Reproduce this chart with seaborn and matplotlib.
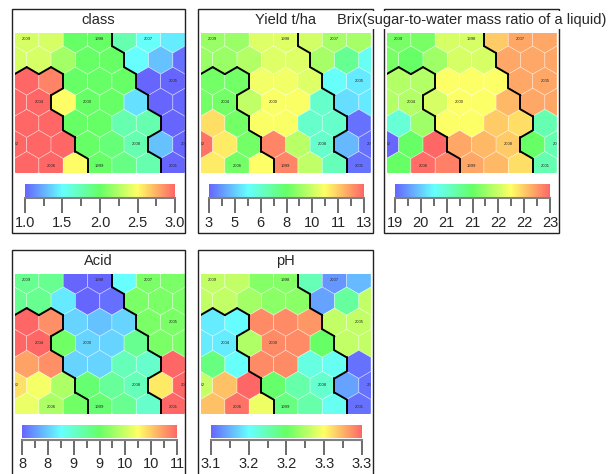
import numpy as np
import matplotlib
matplotlib.use("Agg")
import matplotlib.pyplot as plt
from matplotlib.collections import PolyCollection, LineCollection
from matplotlib.patches import Rectangle
from matplotlib.cm import ScalarMappable
from matplotlib.colors import Normalize
import seaborn as sns

sns.set_style("white")
plt.rcParams['font.family'] = ['Liberation Sans', 'DejaVu Sans']

# SOM node values, rows top -> bottom; even rows 7 nodes, odd rows 8 nodes (shifted half a node left)
class_vals = [
    [2.36, 2.36, 2.0, 2.0, 1.76, 1.52, 1.44],
    [2.36, 2.36, 2.2, 2.0, 2.0, 1.5, 1.3, 1.04],
    [3.0, 2.9, 2.0, 2.0, 2.0, 1.0, 1.0],
    [3.0, 3.0, 2.5, 2.0, 2.0, 1.4, 1.0, 1.0],
    [3.0, 3.0, 2.0, 2.0, 1.76, 1.76, 1.0],
    [3.0, 3.0, 3.0, 2.0, 1.94, 1.76, 1.3, 1.0],
    [3.0, 3.0, 2.5, 2.0, 1.9, 1.76, 1.0],
]
yield_vals = [
    [8.8, 8.8, 9.9, 9.9, 9.7, 9.0, 9.0],
    [8.8, 8.8, 9.2, 9.9, 9.9, 9.0, 7.3, 5.8],
    [8.2, 8.2, 10.2, 10.2, 9.9, 5.7, 5.3],
    [8.2, 8.2, 9.4, 10.3, 10.3, 6.4, 5.1, 5.3],
    [10.9, 8.2, 10.3, 10.3, 6.4, 6.4, 3.4],
    [12.6, 10.7, 8.2, 12.3, 9.3, 6.4, 4.5, 3.4],
    [10.7, 8.2, 10.4, 12.3, 9.4, 6.7, 3.4],
]
brix_vals = [
    [21.2, 21.2, 21.7, 21.7, 22.2, 22.4, 22.4],
    [21.2, 21.1, 21.4, 21.7, 21.7, 22.4, 22.4, 22.4],
    [21.5, 21.5, 21.9, 21.9, 21.9, 22.4, 22.4],
    [21.5, 21.5, 21.7, 21.9, 21.9, 22.3, 22.4, 22.4],
    [20.5, 21.4, 21.9, 21.9, 22.2, 22.1, 20.7],
    [19.45, 21.1, 22.75, 22.4, 22.3, 22.2, 21.1, 20.7],
    [21.1, 22.7, 22.6, 22.4, 22.3, 22.1, 20.7],
]
acid_vals = [
    [9.1, 9.1, 7.8, 7.8, 8.55, 9.4, 9.4],
    [9.1, 9.1, 8.45, 7.8, 7.85, 9.4, 9.4, 9.4],
    [10.8, 10.6, 8.35, 8.25, 8.35, 9.4, 9.4],
    [10.8, 10.8, 9.35, 8.35, 8.35, 9.1, 9.4, 9.4],
    [10.5, 10.6, 8.35, 8.35, 8.9, 8.8, 10.8],
    [10.2, 10.0, 9.65, 9.25, 9.05, 8.9, 10.15, 10.8],
    [9.95, 9.65, 9.35, 9.25, 9.1, 8.8, 10.8],
]
ph_vals = [
    [3.250, 3.250, 3.230, 3.230, 3.194, 3.136, 3.148],
    [3.250, 3.250, 3.240, 3.232, 3.232, 3.140, 3.202, 3.250],
    [3.164, 3.170, 3.308, 3.308, 3.304, 3.250, 3.250],
    [3.164, 3.164, 3.244, 3.308, 3.308, 3.220, 3.250, 3.250],
    [3.212, 3.172, 3.308, 3.308, 3.180, 3.174, 3.124],
    [3.252, 3.290, 3.320, 3.218, 3.198, 3.186, 3.140, 3.124],
    [3.290, 3.316, 3.264, 3.212, 3.198, 3.174, 3.124],
]

# cluster membership of every node (boundaries drawn where it changes)
clusters = [
    [1, 1, 1, 1, 2, 2, 2],
    [1, 1, 1, 1, 1, 2, 2, 2],
    [0, 0, 1, 1, 1, 2, 2],
    [0, 0, 1, 1, 1, 1, 2, 2],
    [0, 0, 1, 1, 1, 1, 2],
    [0, 0, 0, 1, 1, 1, 2, 2],
    [0, 0, 0, 1, 1, 1, 2],
]

label_rows = [0, 0, 0, 2, 3, 3, 5, 5, 5, 6, 6, 6]
label_cols = [0, 3, 5, 6, 1, 3, 0, 5, 7, 1, 3, 6]
label_years = ["2009", "1998", "2007", "2005", "2004", "2000",
               "2002", "2008", "2003", "2006", "1999", "2001"]

titles = ["class", "Yield t/ha", "Brix(sugar-to-water mass ratio of a liquid)", "Acid", "pH"]
panel_vals = [class_vals, yield_vals, brix_vals, acid_vals, ph_vals]
ranges = [(1.0, 3.0), (3.2, 12.8), (19.45, 22.75), (7.8, 10.8), (3.12, 3.32)]
cb_labels = [
    ["1.0", "1.5", "2.0", "2.5", "3.0"],
    ["3", "5", "6", "8", "10", "11", "13"],
    ["19", "20", "21", "21", "22", "22", "23"],
    ["8", "8", "9", "9", "10", "10", "11"],
    ["3.1", "3.2", "3.2", "3.3", "3.3"],
]

cmap = sns.blend_palette(["#6666FF", "#66FFFF", "#66FF66", "#FFFF66", "#FF6666"], as_cmap=True)

W, H = 616, 474
fig = plt.figure(figsize=(W / 100, H / 100), dpi=100)


def fbox(x0, y0, x1, y1):
    return [x0 / W, 1 - y1 / H, (x1 - x0) / W, (y1 - y0) / H]


# hex grid geometry
R = 1 / np.sqrt(3)
ang = np.deg2rad(90 + 60 * np.arange(6))
centers, cl = [], []
for r, row in enumerate(clusters):
    off = 0.0 if r % 2 == 0 else -0.5
    for k, c in enumerate(row):
        centers.append((off + k, -r * np.sqrt(3) / 2))
        cl.append(c)
centers = np.array(centers)
hexes = [np.column_stack([cx + R * np.cos(ang), cy + R * np.sin(ang)]) for cx, cy in centers]

segs = []
for i in range(len(centers)):
    for j in range(i + 1, len(centers)):
        d = centers[j] - centers[i]
        if abs(np.hypot(*d) - 1) < 1e-6 and cl[i] != cl[j]:
            m = (centers[i] + centers[j]) / 2
            p = np.array([-d[1], d[0]])
            segs.append([m - p * R / 2, m + p * R / 2])

frames = [(12, 9, 185, 233), (198, 9, 373, 233), (384, 9, 559, 233),
          (12, 250, 185, 476), (198, 250, 373, 476)]
cb_x = [(25, 175), (209, 364), (395, 550), (22, 177), (211, 362)]
row_shift = [0, 0, 0, 241, 241]

for i in range(5):
    fx0, fy0, fx1, fy1 = frames[i]
    dy = row_shift[i]
    lo, hi = ranges[i]
    norm = Normalize(lo, hi)
    vals = np.concatenate([np.array(v, dtype=float) for v in panel_vals[i]])

    ax = fig.add_axes(fbox(fx0 + 2.5, 32.5 + dy, fx0 + 173, 172.8 + dy))
    pc = PolyCollection(hexes, array=vals, cmap=cmap, norm=norm,
                        edgecolors=(1, 1, 1, 0.45), linewidths=0.5)
    ax.add_collection(pc)
    ax.add_collection(LineCollection(segs, colors="black", linewidths=1.4, capstyle="round"))
    for rr, cc, yr in zip(label_rows, label_cols, label_years):
        off = 0.0 if rr % 2 == 0 else -0.5
        t = ax.text(off + cc, -rr * np.sqrt(3) / 2, yr, fontsize=3, ha="center",
                    va="center", color="#222222")
        t.set_clip_on(True)
    ax.set_xlim(-0.5, 6.5)
    ax.set_ylim(-5.493, 0.267)
    ax.set_axis_off()

    # colour key
    cx0, cx1 = cb_x[i]
    cax = fig.add_axes(fbox(cx0, 184 + dy, cx1, 197 + dy))
    cb = fig.colorbar(ScalarMappable(norm=norm, cmap=cmap), cax=cax, orientation="horizontal")
    cb.outline.set_visible(False)
    cax.set_xticks([])
    cax.tick_params(length=0)

    tax = fig.add_axes(fbox(cx0, 197.5 + dy, cx1, 198.5 + dy))
    tax.set_xlim(lo, hi)
    tax.set_ylim(0, 1)
    for s in ["top", "left", "right"]:
        tax.spines[s].set_visible(False)
    tax.spines["bottom"].set_color("#808080")
    tax.spines["bottom"].set_linewidth(1.5)
    major = np.linspace(lo, hi, len(cb_labels[i]))
    tax.set_xticks(major)
    tax.set_xticklabels(cb_labels[i], fontsize=10.5)
    tax.set_xticks((major[:-1] + major[1:]) / 2, minor=True)
    tax.set_yticks([])
    tax.tick_params(axis="x", which="both", bottom=True, top=False, labelbottom=True)
    tax.tick_params(axis="x", which="major", direction="out", length=11, width=1.1,
                    color="#444444", pad=1.5)
    tax.tick_params(axis="x", which="minor", direction="out", length=5.5, width=1.1,
                    color="#444444")
    tax.patch.set_visible(False)

    fig.patches.append(Rectangle((fx0 / W, 1 - fy1 / H), (fx1 - fx0) / W, (fy1 - fy0) / H,
                                 transform=fig.transFigure, fill=False, edgecolor="#222222",
                                 linewidth=1.0, zorder=1))
    fig.text((fx0 + fx1) / 2 / W, 1 - (20 + dy) / H, titles[i], ha="center", va="center",
             fontsize=10.5, zorder=5,
             bbox=dict(facecolor="white", edgecolor="none", pad=1.5))

fig.savefig("out.png", dpi=100)
